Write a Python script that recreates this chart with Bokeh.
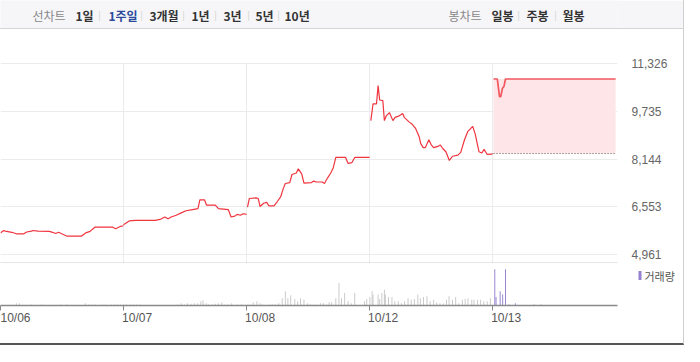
from bokeh.plotting import figure
from bokeh.models import (Range1d, FixedTicker, NumeralTickFormatter, LinearAxis, Label)
from bokeh.layouts import column
from bokeh.embed import file_html
from bokeh.resources import INLINE

# ---------------- data ----------------
days = ["10/06", "10/07", "10/08", "10/12", "10/13"]
session_minutes = 390

# price: minutes from the open, price (KRW)
m_1006 = [0, 10, 15, 36, 50, 74, 83, 98, 103, 119, 155, 165, 175, 184, 194, 211, 256, 270, 284, 299, 340, 356, 365, 381, 390]
p_1006 = [5680, 5760, 5740, 5700, 5650, 5650, 5710, 5740, 5760, 5740, 5730, 5700, 5660, 5700, 5650, 5570, 5570, 5680, 5730, 5870, 5870, 5870, 5820, 5900, 5920]

m_1007 = [0, 18, 38, 100, 116, 131, 141, 151, 167, 183, 198, 219, 236, 242, 257, 263, 291, 301, 332, 341, 353, 360, 371, 379, 390]
p_1007 = [5950, 6080, 6100, 6100, 6130, 6210, 6150, 6210, 6270, 6350, 6420, 6460, 6490, 6780, 6780, 6610, 6610, 6490, 6460, 6210, 6240, 6300, 6270, 6320, 6300]

m_1008 = [3, 9, 30, 37, 43, 54, 64, 71, 87, 97, 108, 116, 123, 137, 144, 158, 164, 175, 182, 206, 213, 221, 240, 247, 257, 267, 275, 283, 314, 322, 334, 343, 390]
p_1008 = [6540, 6830, 6850, 6830, 6560, 6670, 6700, 6580, 6580, 6720, 6880, 7150, 7330, 7360, 7630, 7680, 7820, 7650, 7340, 7360, 7410, 7380, 7380, 7330, 7520, 7680, 7860, 8200, 8200, 8000, 8030, 8200, 8200]

m_1012 = [4, 11, 22, 27, 32, 42, 47, 53, 63, 74, 81, 94, 105, 110, 126, 136, 146, 157, 162, 170, 177, 188, 195, 203, 219, 224, 232, 242, 253, 263, 280, 289, 301, 311, 327, 335, 347, 356, 363, 373, 387, 390]
p_1012 = [9430, 9990, 9990, 10600, 10120, 10100, 9430, 9590, 9700, 9430, 9540, 9590, 9670, 9540, 9380, 9300, 9170, 8900, 8670, 8530, 8530, 8790, 8630, 8530, 8580, 8620, 8500, 8390, 8100, 8240, 8280, 8370, 8790, 9060, 9240, 8980, 8390, 8350, 8470, 8300, 8310, 8330]

m_1013 = [3, 15, 22, 26, 31, 36, 41, 390]
p_1013 = [10820, 10820, 10230, 10230, 10500, 10570, 10820, 10820]

price_minutes = [m_1006, m_1007, m_1008, m_1012, m_1013]
price_values = [p_1006, p_1007, p_1008, p_1012, p_1013]

prev_close = 8330
y_ticks = [4961, 6553, 8144, 9735, 11326]

# volume: minutes from the open, volume (thousand shares)
vm_1006 = [50, 60, 99, 130, 192, 210, 269, 279, 289, 299, 323, 333, 351, 361, 371, 380]
v_1006 = [5.8, 5.8, 2.5, 2.5, 2.5, 2.5, 5.8, 2.5, 2.5, 2.5, 2.5, 2.5, 2.5, 2.5, 2.5, 2.5]
vm_1007 = [0, 10, 21, 31, 41, 52, 172, 183, 193, 203, 214, 224, 234, 245, 252, 262, 270, 281, 291, 301, 312, 322, 332, 343, 363, 374]
v_1007 = [2.5, 2.5, 2.5, 2.5, 2.5, 2.5, 2.5, 5.8, 2.5, 5.8, 4.2, 5.8, 5.8, 10.8, 13.3, 5.8, 2.5, 2.5, 4.2, 5.8, 8.3, 2.5, 2.5, 5.8, 2.5, 2.5]
vm_1008 = [4, 12, 21, 33, 43, 51, 74, 82, 92, 102, 113, 123, 131, 140, 153, 162, 171, 182, 194, 202, 213, 223, 235, 244, 254, 262, 270, 283, 293, 301, 311, 322, 332, 343, 374, 381]
v_1008 = [2.5, 2.5, 8.3, 10.8, 5.8, 2.5, 2.5, 2.5, 2.5, 5.8, 18.3, 35.8, 18.3, 25.8, 16.7, 10.8, 18.3, 14.2, 5.8, 2.5, 2.5, 2.5, 5.8, 5.8, 2.5, 8.3, 8.3, 18.3, 56.7, 18.3, 31.7, 10.8, 5.8, 31.7, 10.8, 16.7]
vm_1012 = [1, 8, 11, 27, 32, 39, 47, 50, 60, 71, 80, 91, 101, 111, 122, 132, 142, 153, 161, 171, 182, 192, 203, 213, 223, 234, 244, 252, 263, 273, 283, 294, 303, 312, 324, 331, 342, 352, 362, 373, 383]
v_1012 = [21.7, 35.8, 27.5, 27.5, 16.7, 31.7, 40.0, 27.5, 21.7, 21.7, 10.8, 10.8, 5.8, 10.8, 18.3, 14.2, 16.7, 27.5, 18.3, 21.7, 23.3, 10.8, 14.2, 8.3, 5.8, 5.8, 14.2, 23.3, 14.2, 21.7, 5.8, 14.2, 16.7, 18.3, 14.2, 14.2, 14.2, 14.2, 10.8, 10.8, 18.3]
vm_1013 = [7, 11, 24, 32, 41, 52, 72, 132, 153]
v_1013 = [91.7, 21.7, 35.8, 27.5, 91.7, 2.5, 5.8, 2.5, 2.5]

volume_minutes = [vm_1006, vm_1007, vm_1008, vm_1012, vm_1013]
volume_values = [v_1006, v_1007, v_1008, v_1012, v_1013]

line_title = "선차트"
line_menu = ["1일", "1주일", "3개월", "1년", "3년", "5년", "10년"]
candle_title = "봉차트"
candle_menu = ["일봉", "주봉", "월봉"]
selected_menu = "1주일"
volume_label = "거래량"

# ---------------- layout ----------------
KR = "Noto Sans CJK KR"
NUM = "Liberation Sans"
W = 683
RIGHT = 66
day_starts = [i * session_minutes for i in range(len(days))]
x_end = 1956
vol_top = 106
today_color = "#9481cf"

# header
hdr = figure(width=W, height=29, x_range=Range1d(0, W), y_range=Range1d(0, 29),
             output_backend="svg", toolbar_location=None,
             x_axis_location=None, y_axis_location=None, min_border=0,
             background_fill_color="#f6f6f8", border_fill_color="#f6f6f8",
             outline_line_color=None)
hdr.grid.visible = False
hdr.styles = {"border-bottom": "1px solid #d4d4d4"}

left_pos = [32, 75, 108, 149, 191, 223, 255, 284]
left_sep = [99, 141, 183, 215, 248, 278]
right_pos = [448, 491, 526, 562]
right_sep = [518, 555]

def hlabel(x, text, color, bold):
    hdr.add_layout(Label(x=x, y=14.5, x_units="screen", y_units="screen", text=text,
                         text_font=KR, text_font_size="12px",
                         text_font_style="bold" if bold else "normal",
                         text_color=color, text_baseline="middle"))

hlabel(left_pos[0], line_title, "#888888", False)
for x, t in zip(left_pos[1:], line_menu):
    hlabel(x, t, "#2b4a9c" if t == selected_menu else "#333333", True)
hlabel(right_pos[0], candle_title, "#888888", False)
for x, t in zip(right_pos[1:], candle_menu):
    hlabel(x, t, "#333333", True)
for x in left_sep + right_sep:
    hdr.add_layout(Label(x=x, y=14.5, x_units="screen", y_units="screen", text="|",
                         text_font=NUM, text_font_size="10px", text_color="#d6d6d6",
                         text_baseline="middle", text_align="center"))

# price panel
xr = Range1d(0, x_end)
pp = figure(width=W, height=234, x_range=xr, y_range=Range1d(4658, 12474),
            output_backend="svg", toolbar_location=None, y_axis_location="right",
            min_border_left=0, min_border_right=RIGHT, min_border_top=0, min_border_bottom=0,
            outline_line_color=None, background_fill_color="white")
pp.xaxis.ticker = FixedTicker(ticks=[])
pp.xaxis.axis_line_color = "#9a9a9a"
pp.xaxis.axis_line_width = 1.5
pp.xaxis.major_tick_line_color = None
pp.xaxis.minor_tick_line_color = None
pp.xaxis.major_label_text_font_size = "1px"
pp.xgrid.grid_line_color = None
pp.yaxis.ticker = FixedTicker(ticks=y_ticks)
pp.yaxis.formatter = NumeralTickFormatter(format="0,0")
pp.yaxis.axis_line_color = None
pp.yaxis.major_tick_line_color = None
pp.yaxis.minor_tick_line_color = None
pp.yaxis.major_label_standoff = 8
pp.yaxis.major_label_text_color = "#666666"
pp.yaxis.major_label_text_font = NUM
pp.yaxis.major_label_text_font_size = "12px"
pp.ygrid.grid_line_color = "#ebebeb"

n = len(day_starts) - 1
pp.segment(x0=day_starts[1:], y0=[y_ticks[-1]] * n, x1=day_starts[1:], y1=[pp.y_range.start] * n,
           line_color="#ebebeb", line_width=1)

last = len(days) - 1
t_last = [day_starts[last] + m for m in price_minutes[last]]
pp.quad(left=[t_last[0]], right=[t_last[-1]], bottom=[prev_close], top=[max(price_values[last])],
        fill_color="#fde5e8", line_color=None)
pp.line([t_last[0], t_last[-1]], [prev_close, prev_close], line_color="#555555",
        line_dash="1 2", line_width=1)

for i in range(len(days)):
    xs = [day_starts[i] + m for m in price_minutes[i]]
    if i == last:
        pp.line(xs, price_values[i], line_color="#f2575f", line_width=1.7)
    else:
        pp.line(xs, price_values[i], line_color="#f0353f", line_width=1.2)

# volume panel
vp = figure(width=W, height=80, x_range=xr, y_range=Range1d(0, vol_top),
            output_backend="svg", toolbar_location=None,
            x_axis_location=None, y_axis_location=None,
            min_border_left=0, min_border_right=RIGHT, min_border_top=0, min_border_bottom=38,
            outline_line_color=None, background_fill_color="white")
vp.grid.visible = False

ax1 = LinearAxis(ticker=FixedTicker(ticks=day_starts), axis_line_color="#8a8a8a", axis_line_width=1.5,
                 major_tick_line_color="#8a8a8a", major_tick_in=0, major_tick_out=5,
                 minor_tick_line_color=None, major_label_standoff=0,
                 major_label_text_font_size="1px",
                 major_label_overrides={d: "" for d in day_starts})
label_offset = 43
ax2 = LinearAxis(ticker=FixedTicker(ticks=[d + label_offset for d in day_starts]),
                 axis_line_color=None, major_tick_line_color=None, minor_tick_line_color=None,
                 major_label_standoff=-6, major_label_text_font=NUM,
                 major_label_text_font_size="12px", major_label_text_color="#555555",
                 major_label_overrides={d + label_offset: lab for d, lab in zip(day_starts, days)})
vp.add_layout(ax1, "below")
vp.add_layout(ax2, "below")

# legend key on the right side of the volume panel (tick = coloured key)
key_y = round(vol_top * 0.71)
axk = LinearAxis(ticker=FixedTicker(ticks=[key_y]), axis_line_color=None,
                 major_tick_line_color=today_color, major_tick_line_width=9,
                 major_tick_in=-21, major_tick_out=24, minor_tick_line_color=None,
                 major_label_standoff=3, major_label_text_font=KR,
                 major_label_text_font_size="11px", major_label_text_color="#555555",
                 major_label_overrides={key_y: volume_label})
vp.add_layout(axk, "right")

past_x, past_v = [], []
for i in range(last):
    past_x += [day_starts[i] + m for m in volume_minutes[i]]
    past_v += volume_values[i]
vp.vbar(x=past_x, top=past_v, bottom=0, width=3, fill_color="#c8c8c8", line_color=None)
vp.vbar(x=[day_starts[last] + m for m in volume_minutes[last]], top=volume_values[last],
        bottom=0, width=3, fill_color=today_color, line_color=None)

layout = column(hdr, pp, vp, styles={"border-right": "1px solid #d0d0d0",
                                     "border-bottom": "2px solid #555555"})
open("out.html", "w").write(file_html(layout, INLINE))
